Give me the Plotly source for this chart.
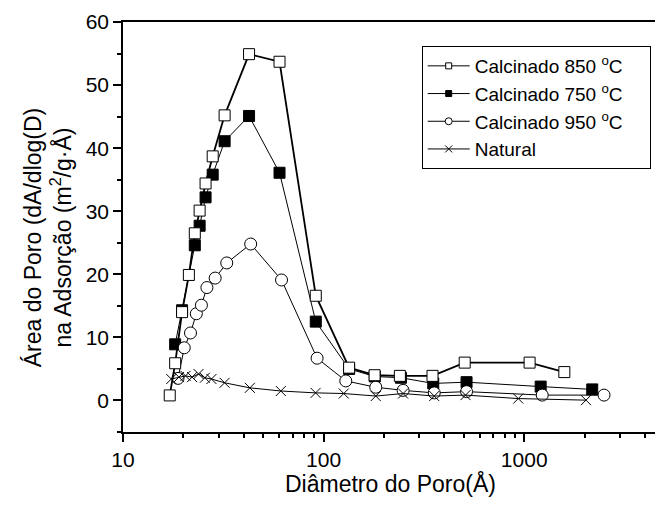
import plotly.graph_objects as go

# ---- data ----
x850 = [17.1, 18.2, 19.7, 21.3, 22.8, 24.1, 25.8, 28.0, 32.1, 42.5, 60.3, 91.4, 134, 179.5, 240, 349, 505, 1064, 1585]
y850 = [0.8, 5.9, 14.0, 19.9, 26.5, 30.1, 34.4, 38.7, 45.2, 54.9, 53.7, 16.6, 5.2, 4.0, 3.9, 3.9, 6.0, 6.0, 4.5]

x750 = [18.2, 19.7, 22.8, 24.1, 25.8, 28.0, 32.1, 42.5, 60.3, 91.4, 134, 180, 243, 352, 516, 1208, 2183]
y750 = [8.9, 14.3, 24.6, 27.7, 32.2, 35.8, 41.1, 45.1, 36.1, 12.5, 5.0, 3.8, 3.6, 2.7, 2.9, 2.2, 1.75]

x950 = [18.8, 20.2, 21.7, 23.2, 24.6, 26.2, 28.8, 32.9, 43.3, 61.7, 92.8, 129, 182, 249, 356, 516, 1230, 2500]
y950 = [3.5, 8.35, 10.7, 13.75, 15.1, 17.9, 19.4, 21.8, 24.8, 19.1, 6.7, 3.1, 2.1, 1.6, 1.2, 1.4, 0.85, 0.85]

xnat = [17.4, 19.0, 20.5, 22.1, 23.8, 25.6, 27.6, 32.1, 42.9, 61.2, 91.2, 126, 182, 249, 356, 510, 934, 2032]
ynat = [3.4, 3.7, 3.9, 3.7, 4.2, 3.6, 3.4, 2.8, 2.0, 1.5, 1.2, 1.1, 0.7, 1.1, 0.7, 0.85, 0.3, 0.05]

names = ["Calcinado 850 <sup>o</sup>C\u00a0\u00a0\u00a0\u00a0", "Calcinado 750 <sup>o</sup>C\u00a0\u00a0\u00a0\u00a0",
         "Calcinado 950 <sup>o</sup>C\u00a0\u00a0\u00a0\u00a0", "Natural"]

xtick_vals = [10, 100, 1000]
xtick_text = ["10", "100", "1000"]
xminor_vals = [20, 30, 40, 50, 60, 70, 80, 90,
               200, 300, 400, 500, 600, 700, 800, 900,
               2000, 3000, 4000]

FONT = "Liberation Sans, Arial, Helvetica, sans-serif"

fig = go.Figure()

# data traces (drawing order: 750, 950, 850, Natural)
fig.add_trace(go.Scatter(x=x750, y=y750, mode="lines+markers", showlegend=False,
                         line=dict(color="black", width=1),
                         marker=dict(symbol="square", size=11, color="black",
                                     line=dict(color="black", width=1))))
fig.add_trace(go.Scatter(x=x950, y=y950, mode="lines+markers", showlegend=False,
                         line=dict(color="black", width=1),
                         marker=dict(symbol="circle", size=12, color="white",
                                     line=dict(color="black", width=1))))
fig.add_trace(go.Scatter(x=x850, y=y850, mode="lines+markers", showlegend=False,
                         line=dict(color="black", width=1.8),
                         marker=dict(symbol="square", size=11, color="white",
                                     line=dict(color="black", width=1))))
fig.add_trace(go.Scatter(x=xnat, y=ynat, mode="lines+markers", showlegend=False,
                         line=dict(color="black", width=1),
                         marker=dict(symbol="x-thin", size=10, color="black",
                                     line=dict(color="black", width=1))))

# legend-only traces (small symbols like the reference)
leg_specs = [
    (names[0], "square", "white", 6),
    (names[1], "square", "black", 6),
    (names[2], "circle", "white", 7),
    (names[3], "x-thin", "black", 7),
]
for nm, sym, col, sz in leg_specs:
    fig.add_trace(go.Scatter(x=[None], y=[None], mode="lines+markers", name=nm,
                             line=dict(color="black", width=1),
                             marker=dict(symbol=sym, size=sz, color=col,
                                         line=dict(color="black", width=1))))

fig.update_layout(
    width=655, height=506,
    margin=dict(l=123, r=0, t=22, b=74),
    paper_bgcolor="white", plot_bgcolor="white",
    font=dict(family=FONT, size=20, color="black"),
    showlegend=True,
    legend=dict(x=(421.7 - 123) / 532, y=(432 - 46) / 410, xanchor="left", yanchor="top",
                bgcolor="white", bordercolor="black", borderwidth=1,
                font=dict(family=FONT, size=19, color="black"),
                itemwidth=42, traceorder="normal"),
)

fig.update_xaxes(
    type="log", range=[1, 3.652],
    showgrid=False, zeroline=False,
    showline=True, linecolor="black", linewidth=1.5, mirror=True,
    ticks="outside", ticklen=8, tickwidth=1.5, tickcolor="black",
    tickvals=xtick_vals, ticktext=xtick_text,
    tickfont=dict(family=FONT, size=21, color="black"),
    minor=dict(ticks="outside", ticklen=4, tickwidth=1.5, tickcolor="black",
               tickvals=xminor_vals),
)
fig.update_yaxes(
    range=[-5, 60],
    showgrid=False, zeroline=False,
    showline=True, linecolor="black", linewidth=1.5, mirror=False,
    ticks="outside", ticklen=8, tickwidth=1.5, tickcolor="black",
    tick0=0, dtick=10,
    tickfont=dict(family=FONT, size=21, color="black"),
    minor=dict(ticks="outside", ticklen=4, tickwidth=1.5, tickcolor="black",
               tick0=-5, dtick=10),
)

fig.add_annotation(
    text="Área do Poro (dA/dlog(D)<br>na Adsorção (m<sup>2</sup>/g·Å)",
    xref="paper", yref="paper", x=(48 - 123) / 532, y=0.475,
    xanchor="center", yanchor="middle", textangle=-90, showarrow=False,
    font=dict(family=FONT, size=23, color="black"),
)
fig.add_annotation(
    text="Diâmetro do Poro(Å)",
    xref="paper", yref="paper", x=(390 - 123) / 532, y=-(483 - 432) / 410,
    xanchor="center", yanchor="middle", showarrow=False,
    font=dict(family=FONT, size=23, color="black"),
)

fig.write_html("out.html", config={"displayModeBar": False},
               post_script="document.body.style.margin='0px';")
